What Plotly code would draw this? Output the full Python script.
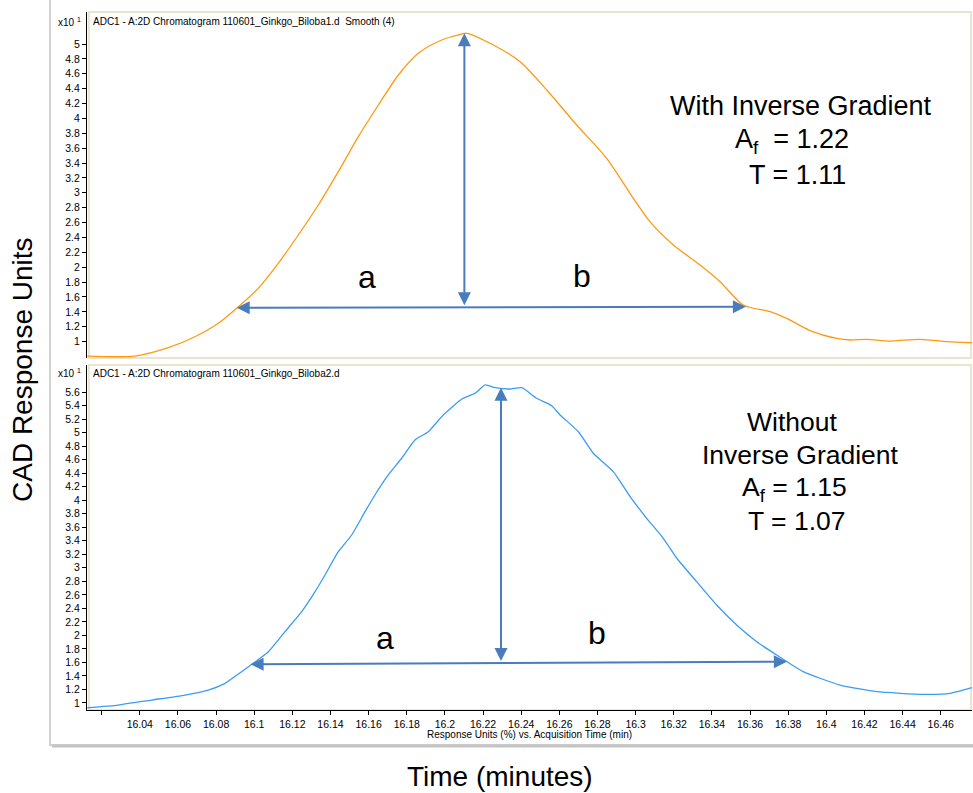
import plotly.graph_objects as go

# ---------------- data ----------------
top_time = [16.0125, 16.0375, 16.0549, 16.0689, 16.0812, 16.0908, 16.1021, 16.1126, 16.1231,
            16.1336, 16.1441, 16.1546, 16.1651, 16.1756, 16.1860, 16.1983, 16.2088, 16.2114,
            16.2254, 16.2394, 16.2534, 16.2691, 16.2848, 16.2988, 16.3075, 16.3198, 16.3338,
            16.3443, 16.3565, 16.3705, 16.3792, 16.3915, 16.4055, 16.4124, 16.4212, 16.4334,
            16.4491, 16.4631, 16.4763]
top_signal = [0.806, 0.806, 0.918, 1.066, 1.246, 1.448, 1.716, 2.052, 2.433,
              2.836, 3.284, 3.754, 4.180, 4.583, 4.875, 5.054, 5.134, 5.144,
              4.987, 4.762, 4.382, 3.911, 3.464, 2.926, 2.612, 2.298, 2.030,
              1.805, 1.492, 1.402, 1.313, 1.149, 1.044, 1.022, 1.031, 1.008,
              1.031, 0.999, 0.985]

bottom_time = [16.0125, 16.0287, 16.0462, 16.0637, 16.0759, 16.0847, 16.0934, 16.0987, 16.1074,
               16.1161, 16.1249, 16.1319, 16.1371, 16.1441, 16.1511, 16.1581, 16.1633, 16.1703,
               16.1773, 16.1843, 16.1913, 16.1991, 16.2089, 16.2158, 16.2211, 16.2263, 16.2341,
               16.2403, 16.2481, 16.2560, 16.2604, 16.2700, 16.2778, 16.2883, 16.2971, 16.3058,
               16.3145, 16.3216, 16.3320, 16.3425, 16.3530, 16.3635, 16.3740, 16.3879, 16.4072,
               16.4264, 16.4509, 16.4649, 16.4763]
bottom_signal = [0.930, 0.970, 1.044, 1.118, 1.192, 1.291, 1.463, 1.572, 1.759,
                 2.055, 2.351, 2.646, 2.893, 3.238, 3.485, 3.830, 4.077, 4.373,
                 4.620, 4.891, 5.013, 5.260, 5.497, 5.581, 5.704, 5.664, 5.645,
                 5.664, 5.507, 5.398, 5.260, 5.013, 4.694, 4.422, 4.052, 3.732,
                 3.436, 3.141, 2.795, 2.450, 2.154, 1.907, 1.710, 1.463, 1.266,
                 1.167, 1.129, 1.143, 1.226]

# peak-width / height markers (time, signal)
top_width_left = (16.0908, 1.456)
top_width_right = (16.3586, 1.469)
top_height_base = (16.2102, 1.47)
top_height_apex = (16.2102, 5.144)
bottom_width_left = (16.0981, 1.572)
bottom_width_right = (16.3801, 1.611)
bottom_height_base = (16.2294, 1.60)
bottom_height_apex = (16.2294, 5.664)
top_label_a = (16.159, 1.87)
top_label_b = (16.272, 1.88)
bottom_label_a = (16.1686, 1.96)
bottom_label_b = (16.2798, 2.04)

x_ticks = [16.02, 16.04, 16.06, 16.08, 16.10, 16.12, 16.14, 16.16, 16.18, 16.20, 16.22, 16.24,
           16.26, 16.28, 16.30, 16.32, 16.34, 16.36, 16.38, 16.40, 16.42, 16.44, 16.46]
x_tick_text = ["", "16.04", "16.06", "16.08", "16.1", "16.12", "16.14", "16.16", "16.18", "16.2",
               "16.22", "16.24", "16.26", "16.28", "16.3", "16.32", "16.34", "16.36", "16.38",
               "16.4", "16.42", "16.44", "16.46"]
top_y_ticks = [1, 1.2, 1.4, 1.6, 1.8, 2, 2.2, 2.4, 2.6, 2.8, 3, 3.2, 3.4, 3.6, 3.8, 4,
               4.2, 4.4, 4.6, 4.8, 5]
bottom_y_ticks = [1, 1.2, 1.4, 1.6, 1.8, 2, 2.2, 2.4, 2.6, 2.8, 3, 3.2, 3.4, 3.6, 3.8, 4,
                  4.2, 4.4, 4.6, 4.8, 5, 5.2, 5.4, 5.6]

top_title = "ADC1 - A:2D Chromatogram 110601_Ginkgo_Biloba1.d  Smooth (4)"
bottom_title = "ADC1 - A:2D Chromatogram 110601_Ginkgo_Biloba2.d"
top_text = ["With Inverse Gradient", "A<sub>f</sub>  = 1.22", "T = 1.11"]
bottom_text = ["Without", "Inverse Gradient", "A<sub>f</sub> = 1.15", "T = 1.07"]

# ---------------- style ----------------
FONT = "Liberation Sans, Arial, Helvetica, sans-serif"
ORANGE = "#ff9a10"
BLUE = "#3a9cf5"
ARROW = "#4a7cbc"
BEIGE = "#e9e4cf"

W, H = 973, 793
L, R, T, B = 87, 1, 12, 83
PW, PH = W - L - R, H - T - B


def px_x(px):
    return (px - L) / PW


def px_y(py):
    return (H - B - py) / PH


fig = go.Figure()
fig.add_trace(go.Scatter(x=top_time, y=top_signal, mode="lines",
                         line=dict(color=ORANGE, width=1.3, shape="spline", smoothing=0.8),
                         xaxis="x", yaxis="y", hoverinfo="skip", showlegend=False))
fig.add_trace(go.Scatter(x=bottom_time, y=bottom_signal, mode="lines",
                         line=dict(color=BLUE, width=1.3, shape="spline", smoothing=0.5),
                         xaxis="x2", yaxis="y2", hoverinfo="skip", showlegend=False))

xrange = [16.0123, 16.4764]
tick_font = dict(family=FONT, size=10.5, color="black")

fig.update_layout(
    width=W, height=H,
    margin=dict(l=L, r=R, t=T, b=B),
    paper_bgcolor="white", plot_bgcolor="white",
    showlegend=False,
    xaxis=dict(domain=[0, 1], anchor="y", range=xrange, showticklabels=False, ticks="",
               showgrid=False, zeroline=False, showline=False),
    yaxis=dict(domain=[0.5043, 1], anchor="x", range=[0.780, 5.430], tickvals=top_y_ticks,
               ticktext=[f"{v:g}" for v in top_y_ticks], ticks="outside", ticklen=4,
               tickcolor="black", showline=True, linecolor="black", linewidth=1,
               showgrid=False, zeroline=False, tickfont=tick_font),
    xaxis2=dict(domain=[0, 1], anchor="y2", range=xrange, tickvals=x_ticks, ticktext=x_tick_text,
                ticks="outside", ticklen=4, tickcolor="black", showline=True, linecolor="black",
                linewidth=1, showgrid=False, zeroline=False, tickfont=tick_font),
    yaxis2=dict(domain=[0, 0.4943], anchor="x2", range=[0.8964, 6.0], tickvals=bottom_y_ticks,
                ticktext=[f"{v:g}" for v in bottom_y_ticks], ticks="outside", ticklen=4,
                tickcolor="black", showline=True, linecolor="black", linewidth=1,
                showgrid=False, zeroline=False, tickfont=tick_font),
)

# outer chromatogram frame and panel borders
fig.add_shape(type="rect", xref="paper", yref="paper", x0=px_x(50), x1=px_x(975),
              y0=px_y(745), y1=px_y(-2), line=dict(color="#d2d2d2", width=2),
              fillcolor="rgba(0,0,0,0)", layer="below")
fig.add_shape(type="line", xref="paper", yref="paper", x0=px_x(52), x1=px_x(973),
              y0=px_y(746), y1=px_y(746), line=dict(color="#c4c4c4", width=3), layer="below")
for yref in ("y domain", "y2 domain"):
    fig.add_shape(type="rect", xref="paper", yref=yref, x0=0.002, x1=0.999, y0=0, y1=1,
                  line=dict(color=BEIGE, width=2), layer="below")

ann = []
# axis multiplier + panel titles
for py, title in ((22, top_title), (373, bottom_title)):
    ann.append(dict(xref="paper", yref="paper", x=px_x(56), y=px_y(py), xanchor="left",
                    yanchor="middle", text="x10 <sup>1</sup>", showarrow=False,
                    font=dict(family=FONT, size=10, color="black")))
    ann.append(dict(xref="paper", yref="paper", x=px_x(91), y=px_y(py), xanchor="left",
                    yanchor="middle", text=title, showarrow=False,
                    font=dict(family=FONT, size=10, color="black")))

ann.append(dict(xref="paper", yref="paper", x=0.5, y=px_y(734), xanchor="center",
                yanchor="middle", text="Response Units (%) vs. Acquisition Time (min)",
                showarrow=False, font=dict(family=FONT, size=10, color="black")))
ann.append(dict(xref="paper", yref="paper", x=px_x(500), y=px_y(776), xanchor="center",
                yanchor="middle", text="Time (minutes)", showarrow=False,
                font=dict(family=FONT, size=28, color="black")))
ann.append(dict(xref="paper", yref="paper", x=px_x(22), y=px_y(370), xanchor="center",
                yanchor="middle", text="CAD Response Units", textangle=-90, showarrow=False,
                font=dict(family=FONT, size=28, color="black")))

# text blocks
for (cx, cy), txt in zip([(801, 106), (792, 141), (797, 175)], top_text):
    ann.append(dict(xref="paper", yref="paper", x=px_x(cx), y=px_y(cy), xanchor="center",
                    yanchor="middle", text=txt, showarrow=False,
                    font=dict(family=FONT, size=27, color="black")))
for (cx, cy), txt in zip([(792, 422), (800, 455), (794, 489), (797, 521)], bottom_text):
    ann.append(dict(xref="paper", yref="paper", x=px_x(cx), y=px_y(cy), xanchor="center",
                    yanchor="middle", text=txt, showarrow=False,
                    font=dict(family=FONT, size=26.5, color="black")))

# a / b labels
for (lx, ly), txt, xr, yr in ((top_label_a, "a", "x", "y"), (top_label_b, "b", "x", "y"),
                              (bottom_label_a, "a", "x2", "y2"), (bottom_label_b, "b", "x2", "y2")):
    ann.append(dict(xref=xr, yref=yr, x=lx, y=ly, text=txt, showarrow=False,
                    xanchor="center", yanchor="middle",
                    font=dict(family=FONT, size=32, color="black")))


# measurement arrows
def arrow(p_head, p_tail, xr, yr, both=False):
    return dict(xref=xr, yref=yr, axref=xr, ayref=yr, x=p_head[0], y=p_head[1],
                ax=p_tail[0], ay=p_tail[1], text="", showarrow=True,
                arrowhead=2, startarrowhead=2, arrowsize=1.3, startarrowsize=1.3,
                arrowwidth=2, arrowcolor=ARROW, standoff=0, startstandoff=0,
                arrowside="end+start" if both else "end")


ann.append(arrow(top_width_left, top_width_right, "x", "y", both=True))
ann.append(arrow(top_height_apex, top_height_base, "x", "y", both=True))
ann.append(arrow(bottom_width_left, bottom_width_right, "x2", "y2", both=True))
ann.append(arrow(bottom_height_apex, bottom_height_base, "x2", "y2", both=True))

fig.update_layout(annotations=ann)
fig.write_html("out.html",
               config={"displayModeBar": False},
               post_script="document.body.style.margin='0';document.body.style.padding='0';"
                           "document.body.style.overflow='hidden';")
